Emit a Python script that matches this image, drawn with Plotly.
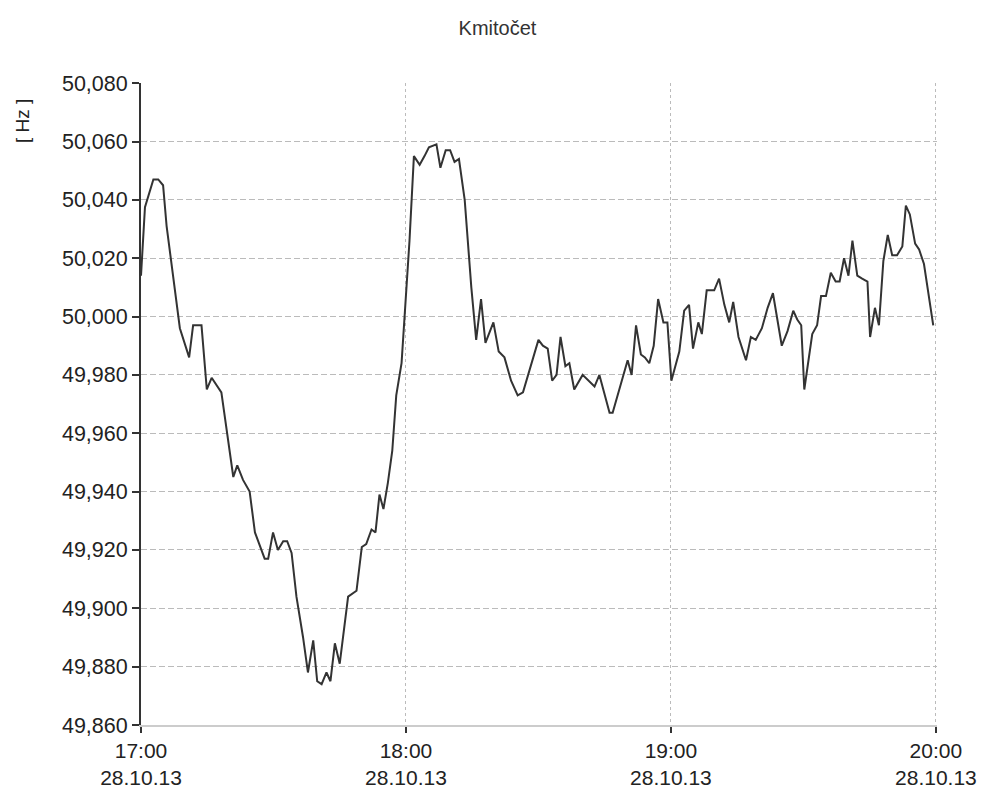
import datetime as dt
import plotly.graph_objects as go

# minutes after 17:00 on 28.10.2013
minutes = [0, 0.9, 2.8, 3.9, 5.0, 5.8, 8.8, 10.9, 11.8, 13.7, 14.9, 16.0, 18.2, 19.7, 20.9, 21.8,
           23.1, 24.6, 25.8, 28.0, 28.8, 29.9, 31.0, 32.2, 33.1, 34.1, 35.2, 36.7, 37.8, 39.0,
           39.9, 40.9, 42.0, 42.9, 43.9, 45.0, 46.9, 48.8, 50.0, 51.0, 52.2, 53.1, 54.0, 54.9,
           55.9, 56.9, 57.8, 59.0, 59.7, 60.8, 61.8, 63.1, 64.2, 65.2, 66.9, 67.8, 69.0, 70.0,
           71.0, 72.0, 73.3, 74.8, 75.9, 77.0, 78.0, 79.8, 81.0, 82.3, 83.8, 85.3, 86.5, 88.3,
           90.0, 91.0, 92.1, 93.1, 94.1, 95.0, 96.1, 97.0, 98.1, 100.0, 102.7, 103.8, 106.1,
           106.8, 110.2, 111.1, 112.1, 113.2, 114.1, 115.1, 116.1, 117.1, 118.3, 119.2, 120.1,
           121.9, 123.0, 124.1, 125.0, 126.2, 127.0, 128.1, 129.8, 130.9, 132.1, 133.2, 134.1,
           135.3, 137.0, 138.1, 139.2, 140.6, 141.9, 143.1, 145.1, 146.4, 147.7, 148.6, 149.5,
           150.2, 152.0, 153.1, 154.0, 155.1, 156.2, 157.3, 158.2, 159.2, 160.2, 161.1, 162.2,
           163.3, 164.5, 165.1, 166.2, 167.1, 168.1, 169.1, 170.1, 171.2, 172.4, 173.2, 174.1,
           175.3, 176.2, 177.3, 179.4]
freq_hz = [50.014, 50.0375, 50.047, 50.047, 50.045, 50.031, 49.996, 49.986, 49.997, 49.997,
           49.975, 49.979, 49.974, 49.957, 49.945, 49.949, 49.944, 49.940, 49.926, 49.917,
           49.917, 49.926, 49.920, 49.923, 49.923, 49.919, 49.904, 49.890, 49.878, 49.889,
           49.875, 49.874, 49.878, 49.875, 49.888, 49.881, 49.904, 49.906, 49.921, 49.922,
           49.927, 49.926, 49.939, 49.934, 49.943, 49.954, 49.973, 49.984, 50.000, 50.026,
           50.055, 50.052, 50.055, 50.058, 50.059, 50.051, 50.057, 50.057, 50.053, 50.054,
           50.040, 50.010, 49.992, 50.006, 49.991, 49.998, 49.988, 49.986, 49.978, 49.973,
           49.974, 49.983, 49.992, 49.990, 49.989, 49.978, 49.980, 49.993, 49.983, 49.984,
           49.975, 49.980, 49.976, 49.980, 49.967, 49.967, 49.985, 49.980, 49.997, 49.987,
           49.986, 49.984, 49.990, 50.006, 49.998, 49.998, 49.978, 49.988, 50.002, 50.004,
           49.989, 49.998, 49.994, 50.009, 50.009, 50.013, 50.004, 49.998, 50.005, 49.993,
           49.985, 49.993, 49.992, 49.996, 50.003, 50.008, 49.990, 49.995, 50.002, 49.999,
           49.997, 49.975, 49.994, 49.997, 50.007, 50.007, 50.015, 50.012, 50.012, 50.020,
           50.014, 50.026, 50.014, 50.013, 50.012, 49.993, 50.003, 49.997, 50.019, 50.028,
           50.021, 50.021, 50.024, 50.038, 50.035, 50.025, 50.023, 50.018, 49.997]

tick_hours = [17, 18, 19, 20]
tick_labels = ["17:00<br>28.10.13", "18:00<br>28.10.13", "19:00<br>28.10.13", "20:00<br>28.10.13"]
y_ticks = [49.86, 49.88, 49.90, 49.92, 49.94, 49.96, 49.98, 50.00, 50.02, 50.04, 50.06, 50.08]

base = dt.datetime(2013, 10, 28, 17, 0)
times = [base + dt.timedelta(minutes=m) for m in minutes]
tick_vals = [dt.datetime(2013, 10, 28, h, 0) for h in tick_hours]
x_range = [tick_vals[0], tick_vals[-1] + dt.timedelta(seconds=15)]
y_range = [49.86, 50.08005]

fig = go.Figure()
fig.add_trace(go.Scatter(x=times, y=freq_hz, mode="lines",
                         line=dict(color="#333333", width=2), showlegend=False))

font_family = "Liberation Sans, Arial, sans-serif"
fig.update_layout(
    width=979, height=783,
    margin=dict(l=133, r=50, t=75, b=66, autoexpand=False),
    paper_bgcolor="white", plot_bgcolor="white",
    separators=", ",
    title=dict(text="Kmitočet", x=0.5, xref="container", xanchor="center",
               y=0.974, yref="container", yanchor="middle",
               font=dict(family=font_family, size=20, color="#333333")),
    font=dict(family=font_family, color="#222222"),
    xaxis=dict(type="date", range=x_range, automargin=False,
               tickmode="array", tickvals=tick_vals, ticktext=tick_labels,
               tickfont=dict(size=21, color="#222222"),
               showgrid=True, gridcolor="#bbbbbb", griddash="3px,3px", gridwidth=1,
               showline=True, linecolor="#cccccc", linewidth=1.5,
               ticks="outside", ticklen=6, tickwidth=2, tickcolor="#333333",
               zeroline=False),
    yaxis=dict(range=y_range, tickmode="array", tickvals=y_ticks, automargin=False,
               tickformat=".3f", tickfont=dict(size=21.5, color="#222222"),
               showgrid=True, gridcolor="#bbbbbb", griddash="6px,3px", gridwidth=1,
               showline=True, linecolor="#333333", linewidth=2,
               ticks="outside", ticklen=7, tickwidth=2, tickcolor="#333333",
               zeroline=False),
    annotations=[dict(text="[ Hz ]", textangle=-90, xref="paper", yref="paper",
                      x=-0.1495, y=0.978, xanchor="center", yanchor="top",
                      showarrow=False, font=dict(family=font_family, size=19, color="#222222"))],
)

fig.write_html("out.html")
